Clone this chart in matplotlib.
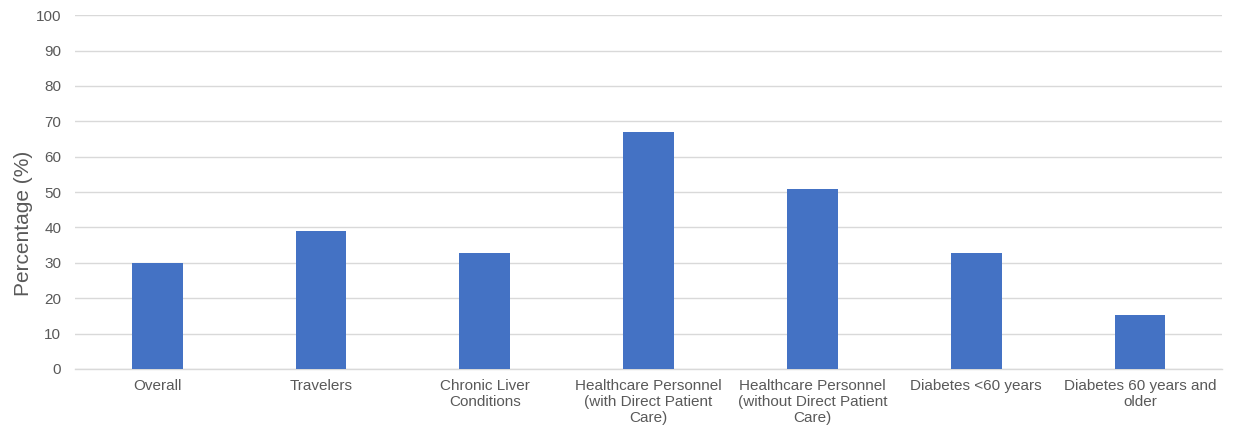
import matplotlib.pyplot as plt

# Vaccination coverage by group
groups = [
    "Overall",
    "Travelers",
    "Chronic Liver\nConditions",
    "Healthcare Personnel\n(with Direct Patient\nCare)",
    "Healthcare Personnel\n(without Direct Patient\nCare)",
    "Diabetes <60 years",
    "Diabetes 60 years and\nolder",
]
percentages = [30, 38.9, 32.9, 67, 50.8, 32.9, 15.3]
y_ticks = [0, 10, 20, 30, 40, 50, 60, 70, 80, 90, 100]

plt.rcParams['font.family'] = ['Liberation Sans', 'DejaVu Sans']

fig = plt.figure(figsize=(12.33, 4.32), dpi=100)
ax = fig.add_axes([0.061, 0.146, 0.93, 0.819])

x = range(len(groups))
ax.bar(x, percentages, width=0.31, color='#4472C4', zorder=3)

ax.set_xlim(-0.5, len(groups) - 0.5)
ax.set_ylim(0, 100)
ax.set_yticks(y_ticks)
ax.set_xticks(list(x))
ax.set_xticklabels(groups, linespacing=1.2)

ax.grid(axis='y', color='#d9d9d9', linewidth=1, zorder=0)
for side in ['top', 'right', 'left']:
    ax.spines[side].set_visible(False)
ax.spines['bottom'].set_color('#d9d9d9')
ax.spines['bottom'].set_linewidth(1)

ax.tick_params(axis='both', length=0, labelsize=11, labelcolor='#595959')
ax.tick_params(axis='x', pad=7)
ax.tick_params(axis='y', pad=10)

ax.set_ylabel('Percentage (%)', fontsize=15, color='#595959')
ax.yaxis.set_label_coords(-0.037, 0.41)

fig.savefig('out.png', dpi=100)
